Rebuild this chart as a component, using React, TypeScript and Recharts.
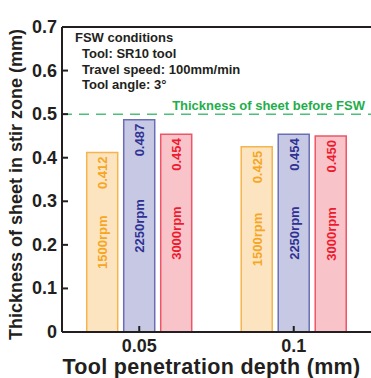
import { BarChart, Bar, XAxis, YAxis, ReferenceLine, LabelList } from "recharts";

const depths = ["0.05", "0.1"];
const rpm1500 = [0.412, 0.425];
const rpm2250 = [0.487, 0.454];
const rpm3000 = [0.454, 0.45];
const yTicks = [0, 0.1, 0.2, 0.3, 0.4, 0.5, 0.6, 0.7];
const sheetThickness = 0.5;
const notes = ["Tool: SR10 tool", "Travel speed: 100mm/min", "Tool angle: 3°"];

const data = depths.map((d, i) => ({
  depth: d,
  r1500: rpm1500[i],
  r2250: rpm2250[i],
  r3000: rpm3000[i],
}));

const FONT = "'Liberation Sans', Arial, Helvetica, sans-serif";
const INK = "#231f20";

const series = [
  { key: "r1500", label: "1500rpm", fill: "#fde4c0", stroke: "#f6b44c", text: "#f5a623" },
  { key: "r2250", label: "2250rpm", fill: "#c7c9e4", stroke: "#6a6fb5", text: "#2e3192" },
  { key: "r3000", label: "3000rpm", fill: "#f9c3ca", stroke: "#ee5566", text: "#ec1c2e" },
];

const YTick = (props: any) => {
  const { x, y, payload } = props;
  const v = payload.value;
  return (
    <g>
      <line x1={x + 5} x2={x + 11} y1={y} y2={y} stroke={INK} strokeWidth={2} />
      <text x={x} y={y} dy={6} textAnchor="end" fontSize={18} fontWeight="bold" fill={INK} fontFamily={FONT}>
        {v === 0 ? "0" : v.toFixed(1)}
      </text>
    </g>
  );
};

const XTick = (props: any) => {
  const { x, y, payload } = props;
  return (
    <g>
      <line x1={x} x2={x} y1={y} y2={y - 6} stroke={INK} strokeWidth={2} />
      <text x={x} y={y} dy={20} textAnchor="middle" fontSize={18} fontWeight="bold" fill={INK} fontFamily={FONT}>
        {payload.value}
      </text>
    </g>
  );
};

const XTitle = (props: any) => {
  const { x, y, width } = props.viewBox;
  return (
    <text
      x={x + width / 2 - 5}
      y={y + 42}
      textAnchor="middle"
      fontSize={21.5}
      letterSpacing={0.3}
      fontWeight="bold"
      fill={INK}
      fontFamily={FONT}
    >
      Tool penetration depth (mm)
    </text>
  );
};

const YTitle = (props: any) => {
  const { y, height } = props.viewBox;
  const cx = 16;
  const cy = y + height / 2 + 5;
  return (
    <text
      x={cx}
      y={cy}
      transform={`rotate(-90 ${cx} ${cy})`}
      textAnchor="middle"
      dy={6}
      fontSize={18}
      fontWeight="bold"
      fill={INK}
      fontFamily={FONT}
    >
      Thickness of sheet in stir zone (mm)
    </text>
  );
};

const valueLabel = (color: string) => (props: any) => {
  const { x, y, width, value } = props;
  const cx = x + width / 2;
  const ty = y + 4;
  return (
    <text
      x={cx}
      y={ty}
      transform={`rotate(-90 ${cx} ${ty})`}
      textAnchor="end"
      dy={5}
      fontSize={13}
      fontWeight="bold"
      fill={color}
      fontFamily={FONT}
    >
      {Number(value).toFixed(3)}
    </text>
  );
};

const rpmLabel = (color: string, label: string) => (props: any) => {
  const { x, y, width, height } = props;
  const cx = x + width / 2;
  const cy = y + height / 2;
  return (
    <text
      x={cx}
      y={cy}
      transform={`rotate(-90 ${cx} ${cy})`}
      textAnchor="middle"
      dy={5}
      fontSize={13}
      fontWeight="bold"
      fill={color}
      fontFamily={FONT}
    >
      {label}
    </text>
  );
};

export default function App() {
  return (
    <div style={{ position: "absolute", left: 0, top: 0, background: "#fff" }}>
      <BarChart
        width={371}
        height={378}
        data={data}
        margin={{ top: 27, right: 0, left: 0, bottom: 0 }}
        barCategoryGap="16%"
        barGap={6}
      >
        <XAxis
          dataKey="depth"
          height={46}
          tickSize={0}
          tickMargin={0}
          tick={<XTick />}
          axisLine={{ stroke: INK, strokeWidth: 2 }}
          label={<XTitle />}
        />
        <YAxis
          width={62}
          domain={[0, 0.7]}
          ticks={yTicks}
          tickSize={0}
          tickMargin={5}
          tick={<YTick />}
          axisLine={{ stroke: INK, strokeWidth: 2 }}
          label={<YTitle />}
        />
        <ReferenceLine y={0.7} stroke={INK} strokeWidth={2} />
        <ReferenceLine
          y={sheetThickness}
          stroke="#4cc07a"
          strokeWidth={1.5}
          strokeDasharray="10 7"
          label={{
            value: "Thickness of sheet before FSW",
            position: "insideBottomRight",
            offset: 4,
            fontSize: 13,
            fontWeight: "bold",
            fill: "#1fae4b",
            fontFamily: FONT,
            dx: -2,
          }}
        />
        {series.map((s) => (
          <Bar
            key={s.key}
            dataKey={s.key}
            fill={s.fill}
            stroke={s.stroke}
            strokeWidth={1.5}
            isAnimationActive={false}
          >
            <LabelList dataKey={s.key} content={valueLabel(s.text)} />
            <LabelList dataKey={s.key} content={rpmLabel(s.text, s.label)} />
          </Bar>
        ))}
        <text x={75} y={42} fontSize={13} fontWeight="bold" fill={INK} fontFamily={FONT}>
          FSW conditions
        </text>
        {notes.map((n, i) => (
          <text key={n} x={82} y={58 + i * 15.5} fontSize={13} fontWeight="bold" fill={INK} fontFamily={FONT}>
            {n}
          </text>
        ))}
      </BarChart>
    </div>
  );
}
